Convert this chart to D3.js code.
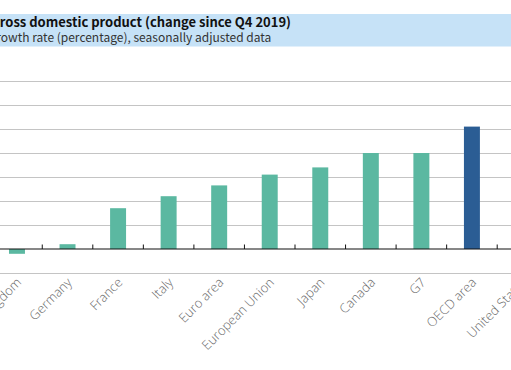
<!DOCTYPE html>
<html><head><meta charset="utf-8">
<script src="https://cdn.jsdelivr.net/npm/d3@7"></script>
<style>body{margin:0;background:#fff;overflow:hidden}</style>
</head><body>
<svg id="c" width="511" height="370"></svg>
<script>
const categories = ["United Kingdom","Germany","France","Italy","Euro area","European Union","Japan","Canada","G7","OECD area","United States"];
const values = [-0.2, 0.2, 1.7, 2.2, 2.65, 3.1, 3.4, 4.0, 4.0, 5.1, 6.1];
const highlight = ["OECD area"];
const yTicks = [-1,0,1,2,3,4,5,6,7];
const title = "Gross domestic product (change since Q4 2019)";
const subtitle = "Growth rate (percentage), seasonally adjusted data";

const svg = d3.select("#c");
const W = 511;
svg.append("rect").attr("x",0).attr("y",14).attr("width",W).attr("height",32.5).attr("fill","#c6e2f7");
svg.append("text").attr("x",-9.5).attr("y",27).attr("font-family","Noto Sans CJK JP").attr("font-weight","bold").attr("font-size",13).attr("fill","#111").text(title);
svg.append("text").attr("x",-12).attr("y",42).attr("font-family","Noto Sans CJK JP").attr("font-size",12).attr("fill","#333").text(subtitle);

const x = d3.scaleBand().domain(categories).range([-8.3, -8.3 + 50.55*categories.length]).paddingInner(0.684).paddingOuter(0.342);
const y = d3.scaleLinear().domain([-1,7]).range([273,81]);

const grid = svg.append("g")
  .call(d3.axisLeft(y).tickValues(yTicks.filter(d=>d!==0)).tickSize(-W).tickFormat(""));
grid.select(".domain").remove();
grid.selectAll("line").attr("stroke","#c4c4c4").attr("stroke-width",1.2);

svg.append("g").selectAll("rect").data(categories).join("rect")
  .attr("x",d=>x(d)).attr("width",x.bandwidth())
  .attr("y",(d,i)=>y(Math.max(0,values[i])))
  .attr("height",(d,i)=>Math.abs(y(values[i])-y(0)))
  .attr("fill",d=>highlight.includes(d)?"#2b5d94":"#5bb8a1");

const step = x.step();
const bounds = d3.range(categories.length+1).map(i=>x.range()[0]+i*step);
const ax = svg.append("g");
ax.append("line").attr("x1",0).attr("x2",W).attr("y1",y(0)).attr("y2",y(0)).attr("stroke","#111").attr("stroke-width",1.2);
ax.selectAll(".tk").data(bounds).join("line").attr("class","tk")
  .attr("x1",d=>d).attr("x2",d=>d).attr("y1",y(0)).attr("y2",y(0)-4.5).attr("stroke","#111").attr("stroke-width",1);

const xa = svg.append("g").attr("transform",`translate(0,${y(-1)+7})`)
  .call(d3.axisBottom(x).tickSize(0).tickPadding(0));
xa.select(".domain").remove();
xa.selectAll("text").attr("font-family","'Open Sans'").attr("font-weight",300).attr("font-size",13).attr("fill","#6a6a6a")
  .attr("y",0).attr("text-anchor","end").attr("dy","0.35em").attr("transform","translate(2,0) rotate(-45)");
</script>
</body></html>
